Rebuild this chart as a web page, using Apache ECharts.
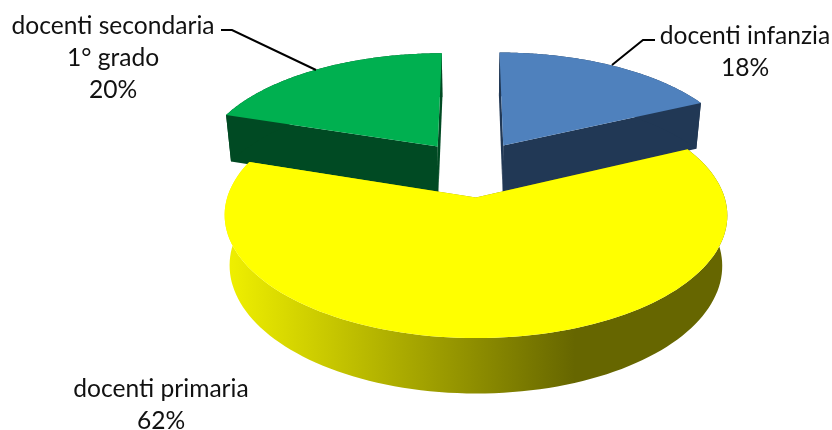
<!DOCTYPE html>
<html><head><meta charset="utf-8">
<style>html,body{margin:0;padding:0;background:#fff}#c{width:832px;height:430px}</style>
<script src="https://cdn.jsdelivr.net/npm/echarts@6/dist/echarts.min.js"></script>
</head><body><div id="c"></div>
<script>
const categories = ['docenti infanzia', 'docenti primaria', 'docenti secondaria\n1° grado'];
const values = [18, 62, 20];
const topColors = ['#4F81BD', '#FFFF00', '#00B050'];
const sideColors = ['#213855', '#666600', '#004A23'];

const total = values.reduce((a, b) => a + b, 0);
const view = { cx: 472, cy: 168.5, R: 240, Ry: 112, p: 0.14, explode: 0.25, baseScale: 0.98, depth: 48.5 };

function project(X, Y, bottom) {
  const w = 1 - view.p * Y;
  let sx = view.R * X / w, sy = view.Ry * Y / w;
  if (bottom) { sx *= view.baseScale; sy = sy * view.baseScale + view.depth / w; }
  return [view.cx + sx, view.cy + sy];
}
function renderSlice(params, api) {
  const i = params.dataIndex;
  let before = 0;
  for (let k = 0; k < i; k++) before += values[k];
  const a0 = before / total * 2 * Math.PI;
  const a1 = (before + api.value(0)) / total * 2 * Math.PI;
  const mid = (a0 + a1) / 2;
  const ox = Math.sin(mid) * view.explode, oy = -Math.cos(mid) * view.explode;
  const arcT = [], arcB = [];
  const n = 120;
  for (let k = 0; k <= n; k++) {
    const a = a0 + (a1 - a0) * k / n;
    const X = ox + Math.sin(a), Y = oy - Math.cos(a);
    arcT.push(project(X, Y, false));
    arcB.push(project(X, Y, true));
  }
  const apexT = project(ox, oy, false), apexB = project(ox, oy, true);
  const base = i === 1 ? 20 : 0;
  const side = i === 1
    ? { type: 'linear', x: 232, y: 0, x2: 575, y2: 0, global: true,
        colorStops: [{ offset: 0, color: '#EEEE00' }, { offset: 1, color: sideColors[i] }] }
    : sideColors[i];
  const poly = (points, fill, z) => ({
    type: 'polygon', shape: { points }, z2: base + z,
    style: { fill, stroke: null }
  });
  return {
    type: 'group',
    children: [
      poly([apexT, arcT[0], arcB[0], apexB], side, 1),
      poly([apexT, arcT[n], arcB[n], apexB], side, 1),
      poly(arcT.concat(arcB.slice().reverse()), side, 2),
      poly([apexT].concat(arcT), topColors[i], 3)
    ]
  };
}
const pct = v => Math.round(v / total * 100) + '%';
const textStyle = { fontFamily: 'Lato, Carlito, sans-serif', fontSize: 24.6, fill: '#111', textAlign: 'center', textVerticalAlign: 'top', lineHeight: 32 };
const leader = pts => ({ type: 'polyline', shape: { points: pts }, style: { stroke: '#000', lineWidth: 2, fill: null }, z: 5 });
const label = (i, x, y) => ({ type: 'text', x, y, z: 6, style: Object.assign({}, textStyle, { text: categories[i] + '\n' + pct(values[i]) }) });

const chart = echarts.init(document.getElementById('c'), null, { renderer: 'canvas' });
chart.setOption({
  animation: false,
  backgroundColor: '#fff',
  series: [{
    type: 'custom',
    coordinateSystem: 'none',
    data: values.map(v => [v]),
    renderItem: renderSlice,
    silent: true
  }],
  graphic: [
    leader([[221, 30], [232, 30], [316, 70]]),
    leader([[655, 40], [643, 40], [612, 65]]),
    label(0, 745, 20),
    label(1, 161, 373),
    label(2, 113, 10)
  ]
});
</script></body></html>
